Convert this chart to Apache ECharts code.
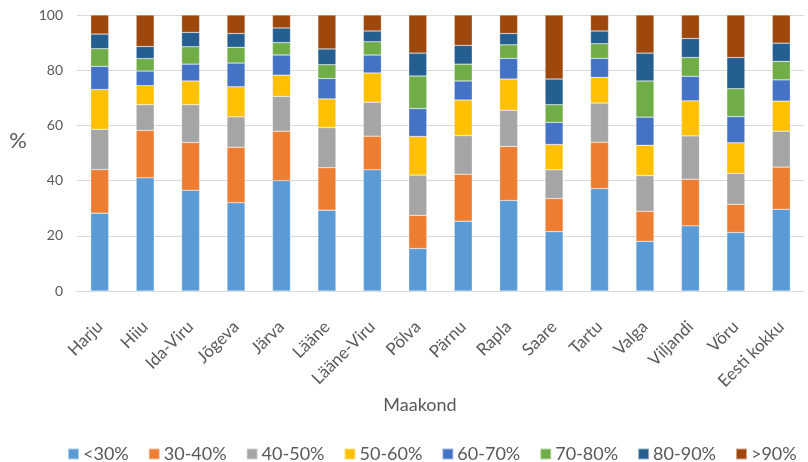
<!DOCTYPE html>
<html><head><meta charset="utf-8">
<script src="https://cdn.jsdelivr.net/npm/echarts@6/dist/echarts.min.js"></script>
<style>html,body{margin:0;padding:0;background:#fff}#c{width:808px;height:462px}</style>
</head><body><div id="c"></div>
<script>
const categories = ["Harju","Hiiu","Ida-Viru","Jõgeva","Järva","Lääne","Lääne-Viru","Põlva","Pärnu","Rapla","Saare","Tartu","Valga","Viljandi","Võru","Eesti kokku"];
const seriesNames = ["<30%","30-40%","40-50%","50-60%","60-70%","70-80%","80-90%",">90%"];
const s_lt30  = [28.2,41.0,36.5,32.0,40.0,29.3,43.9,15.4,25.3,32.8,21.5,37.1,18.0,23.6,21.2,29.6];
const s_30_40 = [15.8,17.2,17.3,20.1,17.9,15.4,12.2,12.0,17.0,19.6,12.0,16.8,10.9,16.9,10.2,15.3];
const s_40_50 = [14.6,9.3,13.7,11.0,12.6,14.5,12.3,14.6,14.0,13.1,10.4,14.2,12.9,15.7,11.2,13.0];
const s_50_60 = [14.4,6.9,8.6,10.9,7.7,10.4,10.6,14.0,12.9,11.3,9.2,9.3,11.0,12.7,11.1,10.9];
const s_60_70 = [8.4,5.3,6.1,8.6,7.3,7.4,6.5,10.1,6.9,7.5,8.0,6.9,10.2,8.9,9.5,7.7];
const s_70_80 = [6.4,4.5,6.3,5.7,4.5,5.0,4.8,11.8,6.1,4.9,6.4,5.3,13.1,6.8,10.1,6.7];
const s_80_90 = [5.3,4.4,5.2,5.0,5.3,5.7,3.9,8.3,6.8,4.1,9.3,4.6,10.1,6.9,11.3,6.6];
const s_gt90  = [6.9,11.4,6.3,6.7,4.7,12.3,5.8,13.8,11.0,6.7,23.2,5.8,13.8,8.5,15.4,10.2];
const yTicks = [0,20,40,60,80,100];
const xTitle = "Maakond";
const yTitle = "%";
const colors = ["#5B9BD5","#ED7D31","#A5A5A5","#FFC000","#4472C4","#70AD47","#255E91","#9E480E"];
const data = [s_lt30,s_30_40,s_40_50,s_50_60,s_60_70,s_70_80,s_80_90,s_gt90];
const font = "Lato, 'Open Sans', sans-serif";
const chart = echarts.init(document.getElementById('c'), null, {renderer:'canvas'});
chart.setOption({
  animation:false,
  color:colors,
  textStyle:{fontFamily:font},
  grid:{left:77,right:4,top:15,bottom:171,containLabel:false},
  legend:{top:440,left:62,itemWidth:11,itemHeight:11,itemGap:19,icon:'rect',
    textStyle:{fontSize:18,color:'#595959',fontFamily:font,padding:[0,0,0,-1]},data:seriesNames},
  graphic:[
    {type:'text',position:[420,405],style:{text:xTitle,x:0,y:0,textAlign:'center',textVerticalAlign:'middle',
      fontSize:18,fill:'#595959',fontFamily:font}},
    {type:'text',position:[18,141],style:{text:yTitle,x:0,y:0,textAlign:'center',textVerticalAlign:'middle',
      fontSize:22,fill:'#595959',fontFamily:font}}
  ],
  xAxis:{type:'category',data:categories,
    axisLine:{lineStyle:{color:'#d9d9d9'}},axisTick:{show:false},
    axisLabel:{rotate:45,interval:0,margin:33,fontSize:17,color:'#595959',fontFamily:font}},
  yAxis:{type:'value',min:yTicks[0],max:yTicks[yTicks.length-1],interval:20,
    axisLine:{show:false},axisTick:{show:false},
    axisLabel:{fontSize:14,color:'#595959',margin:14,fontFamily:font},
    splitLine:{lineStyle:{color:'#d9d9d9',width:1}}},
  series:data.map((d,i)=>({name:seriesNames[i],type:'bar',stack:'a',data:d,barWidth:18,
    itemStyle:{color:colors[i],borderColor:'rgba(255,255,255,0.5)',borderWidth:0.5}}))
});
</script></body></html>
